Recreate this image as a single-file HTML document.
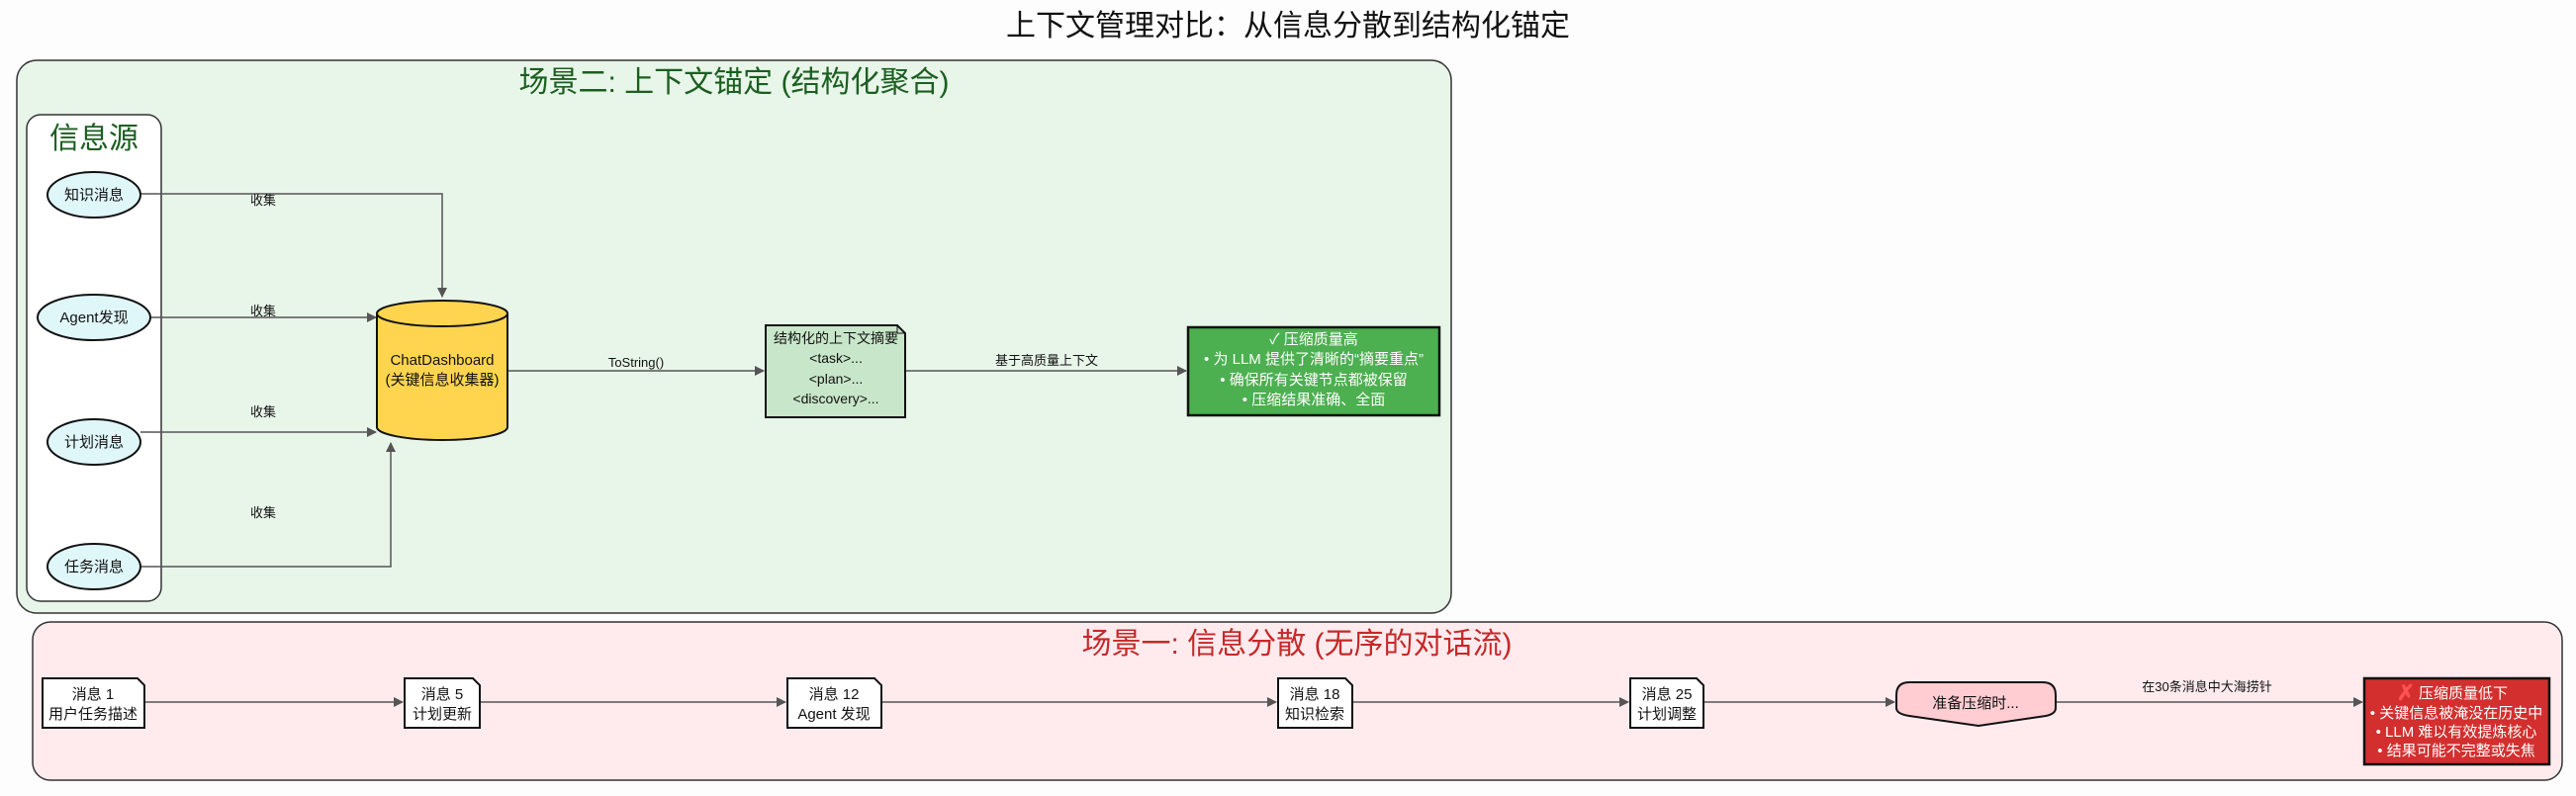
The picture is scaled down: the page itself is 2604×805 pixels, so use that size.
<!DOCTYPE html>
<html><head><meta charset="utf-8"><style>
html,body{margin:0;padding:0;background:#fff;}
svg{display:block;font-family:"Liberation Sans","Noto Sans CJK SC",sans-serif;}
</style></head><body>
<svg width="2604" height="805" viewBox="0 0 2604 805" xmlns="http://www.w3.org/2000/svg">
<defs>
<marker id="a" markerWidth="10" markerHeight="10" refX="9" refY="5" orient="auto" markerUnits="userSpaceOnUse">
<path d="M0,0 L10,5 L0,10 z" fill="#555"/></marker>
</defs>
<rect width="2604" height="805" fill="#fdfdfd"/>
<text x="1302" y="36" font-size="30" text-anchor="middle" fill="#111">上下文管理对比：从信息分散到结构化锚定</text>

<rect x="17" y="61" width="1450" height="559" rx="20" fill="#e8f5e9" stroke="#333" stroke-width="1.5"/>
<text x="742" y="93" font-size="30" text-anchor="middle" fill="#1b5e20">场景二: 上下文锚定 (结构化聚合)</text>
<rect x="27" y="116" width="136" height="492" rx="14" fill="#fff" stroke="#333" stroke-width="1.5"/>
<text x="95" y="150" font-size="30" text-anchor="middle" fill="#1b5e20">信息源</text>

<g stroke="#555" stroke-width="1.5" fill="none">
<polyline points="142,196 447,196 447,300" marker-end="url(#a)"/>
<line x1="153" y1="321" x2="380" y2="321" marker-end="url(#a)"/>
<line x1="142" y1="437" x2="380" y2="437" marker-end="url(#a)"/>
<polyline points="142,573 395,573 395,448" marker-end="url(#a)"/>
<line x1="513" y1="375" x2="772" y2="375" marker-end="url(#a)"/>
<line x1="915" y1="375" x2="1199" y2="375" marker-end="url(#a)"/>
</g>
<g font-size="13" text-anchor="middle" fill="#111">
<text x="266" y="207">收集</text>
<text x="266" y="319">收集</text>
<text x="266" y="421">收集</text>
<text x="266" y="523">收集</text>
<text x="643" y="371">ToString()</text>
<text x="1058" y="369">基于高质量上下文</text>
</g>

<g fill="#e0f7fa" stroke="#111" stroke-width="2">
<ellipse cx="95" cy="197" rx="47" ry="23"/>
<ellipse cx="95" cy="321" rx="57" ry="23"/>
<ellipse cx="95" cy="447" rx="47" ry="23"/>
<ellipse cx="95" cy="573" rx="47" ry="23"/>
</g>
<g font-size="15" text-anchor="middle" fill="#111">
<text x="95" y="202">知识消息</text>
<text x="95" y="326">Agent发现</text>
<text x="95" y="452">计划消息</text>
<text x="95" y="578">任务消息</text>
</g>

<path d="M381,317 L381,432 A66,13 0 0 0 513,432 L513,317" fill="#ffd54f" stroke="#111" stroke-width="2"/>
<ellipse cx="447" cy="317" rx="66" ry="13" fill="#ffd54f" stroke="#111" stroke-width="2"/>
<text x="447" y="369" font-size="15" text-anchor="middle" fill="#111">ChatDashboard</text>
<text x="447" y="389" font-size="15" text-anchor="middle" fill="#111">(关键信息收集器)</text>

<path d="M774,329 L907,329 L915,337 L915,422 L774,422 z" fill="#c8e6c9" stroke="#111" stroke-width="2"/>
<path d="M907,329 L907,337 L915,337" fill="none" stroke="#111" stroke-width="1"/>
<g font-size="14" text-anchor="middle" fill="#111">
<text x="845" y="347">结构化的上下文摘要</text>
<text x="845" y="367">&lt;task&gt;...</text>
<text x="845" y="388">&lt;plan&gt;...</text>
<text x="845" y="408">&lt;discovery&gt;...</text>
</g>

<rect x="1201" y="331" width="254" height="89" fill="#4caf50" stroke="#111" stroke-width="2.5"/>
<g font-size="15" text-anchor="middle" fill="#fff">
<text x="1328" y="348">✓ 压缩质量高</text>
<text x="1328" y="368">• 为 LLM 提供了清晰的“摘要重点”</text>
<text x="1328" y="389">• 确保所有关键节点都被保留</text>
<text x="1328" y="409">• 压缩结果准确、全面</text>
</g>

<rect x="33" y="629" width="2557" height="160" rx="18" fill="#ffebee" stroke="#333" stroke-width="1.5"/>
<text x="1311" y="661" font-size="30" text-anchor="middle" fill="#c62828">场景一: 信息分散 (无序的对话流)</text>

<g stroke="#555" stroke-width="1.5" fill="none">
<line x1="146" y1="710" x2="407" y2="710" marker-end="url(#a)"/>
<line x1="485" y1="710" x2="794" y2="710" marker-end="url(#a)"/>
<line x1="891" y1="710" x2="1290" y2="710" marker-end="url(#a)"/>
<line x1="1367" y1="710" x2="1646" y2="710" marker-end="url(#a)"/>
<line x1="1722" y1="710" x2="1915" y2="710" marker-end="url(#a)"/>
<line x1="2078" y1="710" x2="2388" y2="710" marker-end="url(#a)"/>
</g>
<text x="2231" y="699" font-size="13" text-anchor="middle" fill="#111">在30条消息中大海捞针</text>

<g fill="#fff" stroke="#111" stroke-width="2">
<path d="M43,686 L139,686 L146,693 L146,736 L43,736 z"/>
<path d="M409,686 L478,686 L485,693 L485,736 L409,736 z"/>
<path d="M796,686 L884,686 L891,693 L891,736 L796,736 z"/>
<path d="M1292,686 L1360,686 L1367,693 L1367,736 L1292,736 z"/>
<path d="M1648,686 L1715,686 L1722,693 L1722,736 L1648,736 z"/>
</g>
<g font-size="15" text-anchor="middle" fill="#111">
<text x="94" y="707">消息 1</text><text x="94" y="727">用户任务描述</text>
<text x="447" y="707">消息 5</text><text x="447" y="727">计划更新</text>
<text x="843" y="707">消息 12</text><text x="843" y="727">Agent 发现</text>
<text x="1329" y="707">消息 18</text><text x="1329" y="727">知识检索</text>
<text x="1685" y="707">消息 25</text><text x="1685" y="727">计划调整</text>
</g>

<path d="M1930,690 L2065,690 Q2078,690 2078,703 L2078,716 Q2078,722 2068,724 L2000,734 L1930,724 Q1917,722 1917,716 L1917,703 Q1917,690 1930,690 z" fill="#ffcdd2" stroke="#111" stroke-width="2"/>
<text x="1997" y="716" font-size="15" text-anchor="middle" fill="#111">准备压缩时...</text>

<rect x="2390" y="686" width="187" height="87" fill="#d32f2f" stroke="#111" stroke-width="2.5"/>
<text x="2432" y="708" font-size="22" font-weight="bold" text-anchor="middle" fill="#ff5252">✗</text>
<g font-size="15" text-anchor="middle" fill="#fff">
<text x="2490" y="706">压缩质量低下</text>
<text x="2483" y="726">• 关键信息被淹没在历史中</text>
<text x="2483" y="745">• LLM 难以有效提炼核心</text>
<text x="2483" y="764">• 结果可能不完整或失焦</text>
</g>
</svg>
</body></html>
